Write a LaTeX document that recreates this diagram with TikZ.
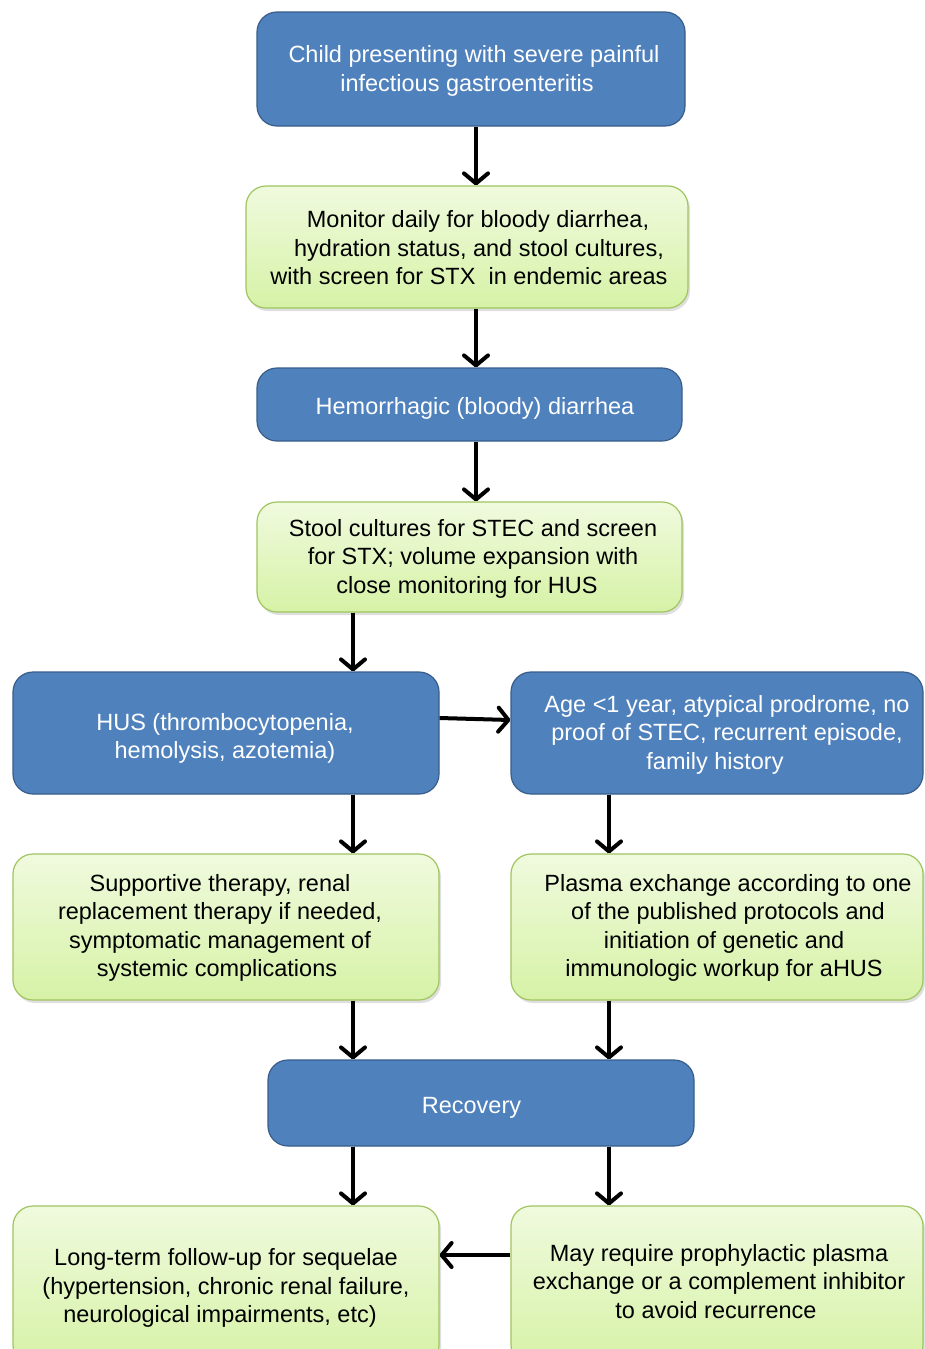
\documentclass[tikz,border=0pt]{standalone}
\usepackage{fontspec}
\setmainfont{Liberation Sans}
\usetikzlibrary{arrows.meta,shadows,calc}
\definecolor{bfill}{RGB}{79,129,189}
\definecolor{bline}{RGB}{56,93,138}
\definecolor{gline}{RGB}{160,196,96}
\definecolor{gtop}{RGB}{240,250,222}
\definecolor{gbot}{RGB}{214,242,166}
\tikzset{
  box/.style={rectangle, rounded corners=20pt, inner sep=0pt, line width=1.2pt},
  bluebox/.style={box, draw=bline, fill=bfill},
  greenbox/.style={box, draw=gline, top color=gtop, bottom color=gbot,
    drop shadow={opacity=0.25, shadow xshift=2pt, shadow yshift=-3pt}},
  txt/.style={align=center, inner sep=0pt, font=\fontsize{23.5pt}{28.5pt}\selectfont},
  wtxt/.style={txt, text=white},
  btxt/.style={txt, text=black},
  arr/.style={line width=4pt, -{Straight Barb[length=10pt,width=24pt,line cap=round,line join=round]}}
}
\begin{document}
\begin{tikzpicture}[x=1pt,y=1pt]
\useasboundingbox (0,0) rectangle (925,-1349);
\clip (0,0) rectangle (925,-1349);
% boxes
\node[bluebox, minimum width=428, minimum height=114] (b1) at (471,-69) {};
\node[greenbox, minimum width=442, minimum height=122] (b2) at (467,-247) {};
\node[bluebox, minimum width=425, minimum height=73] (b3) at (469.5,-404.5) {};
\node[greenbox, minimum width=425, minimum height=110] (b4) at (469.5,-557) {};
\node[bluebox, minimum width=426, minimum height=122] (b5L) at (226,-733) {};
\node[bluebox, minimum width=412, minimum height=122] (b5R) at (717,-733) {};
\node[greenbox, minimum width=426, minimum height=146] (b6L) at (226,-927) {};
\node[greenbox, minimum width=412, minimum height=146] (b6R) at (717,-927) {};
\node[bluebox, minimum width=426, minimum height=86] (b7) at (481,-1103) {};
\node[greenbox, minimum width=426, minimum height=159] (b8L) at (226,-1285.5) {};
\node[greenbox, minimum width=412, minimum height=159] (b8R) at (717,-1285.5) {};
% texts
\node[wtxt] (t1) at (474,-71) {Child presenting with severe painful\\infectious gastroenteritis\hspace*{14pt}};
\node[btxt] (t2) at (469,-248) {\hspace*{18pt}Monitor daily for bloody diarrhea,\\\hspace*{20pt}hydration status, and stool cultures,\\with screen for STX\ \ in endemic areas};
\node[wtxt] (t3) at (475,-408.5) {Hemorrhagic (bloody) diarrhea};
\node[btxt] (t4) at (473,-558.5) {Stool cultures for STEC and screen\\for STX; volume expansion with\\close monitoring for HUS\hspace*{12pt}};
\node[wtxt] (t5L) at (225,-738.5) {HUS (thrombocytopenia,\\hemolysis, azotemia)};
\node[wtxt] (t5R) at (727,-734.5) {Age <1 year, atypical prodrome, no\\proof of STEC, recurrent episode,\\\hspace*{-24pt}family history};
\node[btxt] (t6L) at (220,-928) {Supportive therapy, renal\\replacement therapy if needed,\\symptomatic management of\\\hspace*{-6pt}systemic complications};
\node[btxt] (t6R) at (728,-928) {Plasma exchange according to one\\of the published protocols and\\\hspace*{-8pt}initiation of genetic and\\\hspace*{-8pt}immunologic workup for aHUS};
\node[wtxt] (t7) at (471.5,-1107.5) {Recovery};
\node[btxt] (t8L) at (226,-1288) {Long-term follow-up for sequelae\\(hypertension, chronic renal failure,\\\hspace*{-12pt}neurological impairments, etc)};
\node[btxt] (t8R) at (719,-1281.5) {May require prophylactic plasma\\exchange or a complement inhibitor\\\hspace*{-6pt}to avoid recurrence};
% arrow columns
\coordinate (cM) at (476,0);
\coordinate (cL) at (353,0);
\coordinate (cR) at (609,0);
% arrows
\draw[arr] (b1.south -| cM) -- (b2.north -| cM);
\draw[arr] (b2.south -| cM) -- (b3.north -| cM);
\draw[arr] (b3.south -| cM) -- (b4.north -| cM);
\draw[arr] (b4.south -| cL) -- (b5L.north -| cL);
\draw[arr] ([yshift=15]b5L.east) -- ([yshift=13]b5R.west);
\draw[arr] (b5L.south -| cL) -- (b6L.north -| cL);
\draw[arr] (b5R.south -| cR) -- (b6R.north -| cR);
\draw[arr] (b6L.south -| cL) -- (b7.north -| cL);
\draw[arr] (b6R.south -| cR) -- (b7.north -| cR);
\draw[arr] (b7.south -| cL) -- (b8L.north -| cL);
\draw[arr] (b7.south -| cR) -- (b8R.north -| cR);
\draw[arr] ([yshift=30.5]b8R.west) -- ([yshift=30.5]b8L.east);
\end{tikzpicture}
\end{document}
